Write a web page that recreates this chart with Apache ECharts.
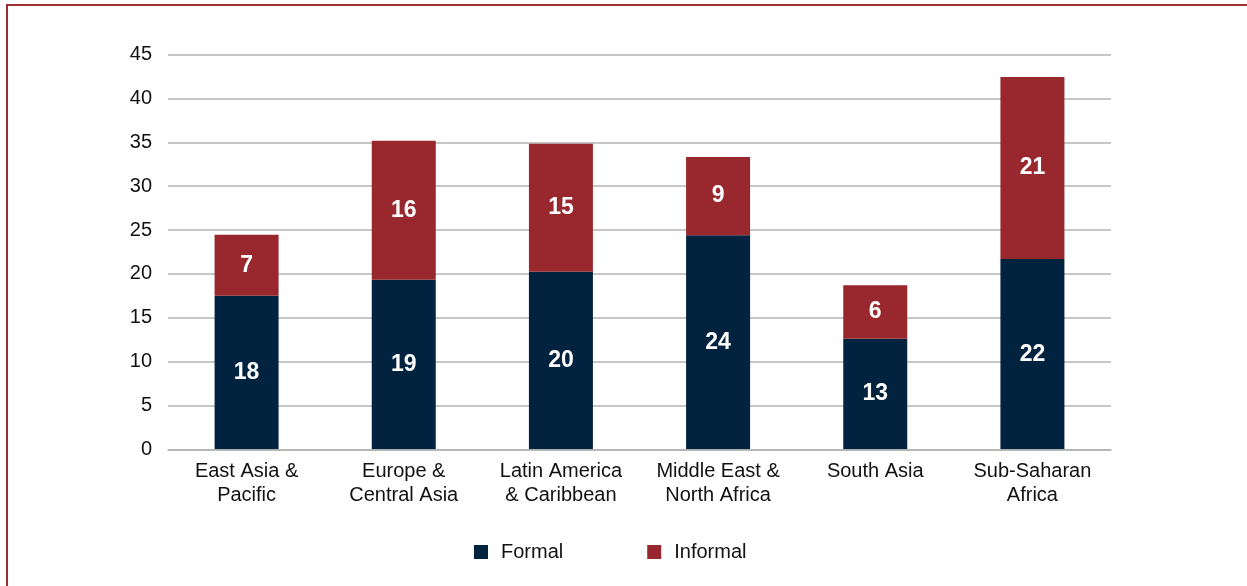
<!DOCTYPE html>
<html>
<head>
<meta charset="utf-8">
<script src="https://cdn.jsdelivr.net/npm/echarts@6/dist/echarts.min.js"></script>
<style>
html,body{margin:0;padding:0;background:#fff;}
#frame{position:absolute;left:6px;top:4px;width:1260px;height:600px;border-left:2px solid #9b2f33;border-top:2px solid #9b2f33;box-sizing:border-box;}
#chart{position:absolute;left:0;top:0;width:1247px;height:586px;}
</style>
</head>
<body>
<div id="frame"></div>
<div id="chart"></div>
<script>
const categories = ["East Asia &\nPacific", "Europe &\nCentral Asia", "Latin America\n& Caribbean", "Middle East &\nNorth Africa", "South Asia", "Sub-Saharan\nAfrica"];
const formal = [17.5, 19.33, 20.24, 24.42, 12.6, 21.7];
const informal = [6.96, 15.87, 14.6, 8.9, 6.1, 20.76];
const seriesNames = ["Formal", "Informal"];
const yTicks = {min: 0, max: 45, interval: 5};

const chart = echarts.init(document.getElementById('chart'), null, {renderer: 'canvas'});
const font = '"Liberation Sans", Arial, sans-serif';
const lbl = {
  show: true, position: 'inside', color: '#fff', fontWeight: 'bold', fontSize: 23, fontFamily: font,
  formatter: p => Math.round(p.value)
};
chart.setOption({
  animation: false,
  backgroundColor: 'transparent',
  grid: {left: 168, right: 136, top: 54.7, bottom: 136.7, containLabel: false},
  legend: {
    data: seriesNames, left: 469, top: 537, itemWidth: 14, itemHeight: 14, itemGap: 84,
    icon: 'rect',
    textStyle: {fontSize: 20, fontFamily: font, color: '#111', padding: [0,0,0,8]}
  },
  xAxis: {
    type: 'category', data: categories, z: 5,
    axisLine: {show: true, lineStyle: {color: '#b3b3b3', width: 1.5}},
    axisTick: {show: false},
    axisLabel: {fontSize: 20, fontFamily: font, color: '#111', lineHeight: 24, margin: 10, interval: 0}
  },
  yAxis: {
    type: 'value', min: yTicks.min, max: yTicks.max, interval: yTicks.interval,
    axisLine: {show: false}, axisTick: {show: false},
    axisLabel: {fontSize: 20, fontFamily: font, color: '#111', margin: 16},
    splitLine: {lineStyle: {color: '#b3b3b3', width: 1.5}}
  },
  series: [
    {name: seriesNames[0], type: 'bar', stack: 's', data: formal, barWidth: 64,
     itemStyle: {color: '#012340'}, label: lbl},
    {name: seriesNames[1], type: 'bar', stack: 's', data: informal, barWidth: 64,
     itemStyle: {color: '#98282d'}, label: lbl}
  ]
});
</script>
</body>
</html>
